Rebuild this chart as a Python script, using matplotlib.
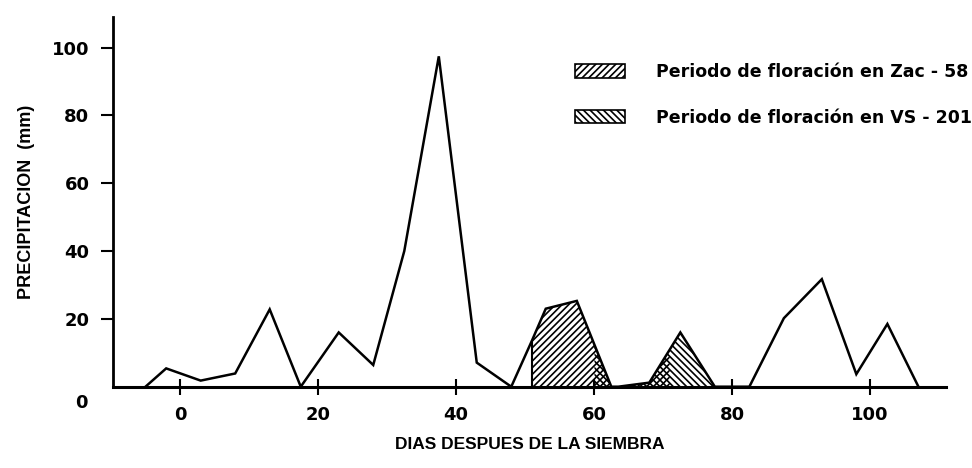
import numpy as np
import matplotlib
matplotlib.use('Agg')
import matplotlib.pyplot as plt
from matplotlib.patches import Patch

# precipitation per period, days after sowing
dias = [-5, -2, 3, 8, 13, 17.5, 23, 28, 32.5, 37.5, 43, 48, 51, 53, 57.5,
        62.5, 63.5, 68, 72.5, 77.5, 82.5, 87.5, 93, 98, 102.5, 107]
precip = [0, 5.4, 1.8, 3.9, 22.8, 0, 16, 6.4, 40, 97.4, 7.1, 0, 13.6, 23, 25.3,
          0, 0, 1.2, 16, 0, 0, 20.2, 31.7, 3.7, 18.5, 0]

# flowering periods (start, end)
flor_zac = (51, 71)
flor_vs = (60, 77.5)

xticks = [0, 20, 40, 60, 80, 100]
yticks = [20, 40, 60, 80, 100]

plt.rcParams['font.family'] = ['Liberation Sans', 'DejaVu Sans']
plt.rcParams['font.weight'] = 'bold'
plt.rcParams['hatch.linewidth'] = 1.2
numfont = ['DejaVu Sans']

fig = plt.figure(figsize=(9.72, 4.68), dpi=100)
ax = fig.add_axes([0.1163, 0.1737, 0.857, 0.790])

x = np.array(dias, dtype=float)
y = np.array(precip, dtype=float)

# fine grid so the fills follow the polyline exactly
xf = np.union1d(np.linspace(x.min(), x.max(), 2000), x)
yf = np.interp(xf, x, y)

m1 = (xf >= flor_zac[0]) & (xf <= flor_zac[1])
ax.fill_between(xf[m1], 0, yf[m1], facecolor='none', edgecolor='black',
                hatch='/////', linewidth=0)
m2 = (xf >= flor_vs[0]) & (xf <= flor_vs[1])
ax.fill_between(xf[m2], 0, yf[m2], facecolor='none', edgecolor='black',
                hatch='\\\\\\\\\\', linewidth=0)
ax.vlines(flor_zac[0], 0, np.interp(flor_zac[0], x, y), color='black', lw=1.5)

ax.plot(x, y, color='black', lw=1.8, solid_joinstyle='miter')

ax.set_xlim(-9.7, 111)
ax.set_ylim(0, 109)

ax.spines['right'].set_color('none')
ax.spines['top'].set_color('none')
ax.spines['left'].set_linewidth(2)
ax.spines['bottom'].set_linewidth(2.2)

ax.set_xticks(xticks)
ax.set_yticks(yticks)
ax.tick_params(axis='x', direction='inout', length=12, width=1.5,
               labelsize=13, pad=8)
ax.tick_params(axis='y', direction='out', length=9, width=1.5,
               labelsize=13, pad=8)
for lab in ax.get_xticklabels() + ax.get_yticklabels():
    lab.set_fontweight('bold')
    lab.set_family(numfont)

ax.annotate('0', xy=(0, 0), xycoords='axes fraction', xytext=(-23, -12),
            textcoords='offset points', ha='center', va='center',
            fontsize=13, fontweight='bold', family=numfont)

ax.set_xlabel('DIAS DESPUES DE LA SIEMBRA', fontsize=12.5, fontweight='bold',
              labelpad=9)
ax.set_ylabel('PRECIPITACION  (mm)', fontsize=13, fontweight='bold',
              labelpad=12)

handles = [Patch(facecolor='white', edgecolor='black', hatch='/////', lw=1.2),
           Patch(facecolor='white', edgecolor='black', hatch='\\\\\\\\\\', lw=1.2)]
labels = ['Periodo de floración en Zac - 58', 'Periodo de floración en VS - 201']
leg = ax.legend(handles, labels, loc='upper left', bbox_to_anchor=(0.546, 0.895),
                frameon=False, prop={'family': numfont, 'weight': 'bold', 'size': 12.5},
                handlelength=2.9, handleheight=0.85,
                handletextpad=1.8, labelspacing=1.6, borderaxespad=0)

plt.savefig('out.png', dpi=100)
